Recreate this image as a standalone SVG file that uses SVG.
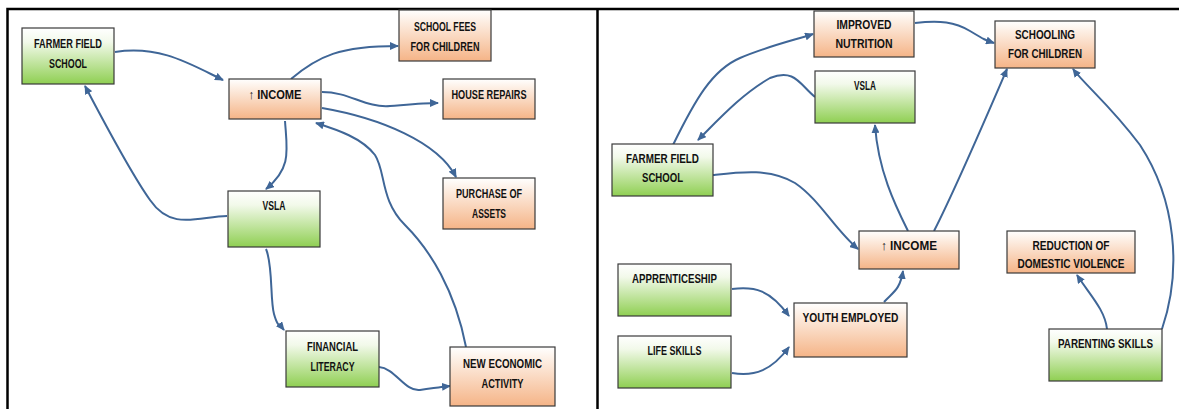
<svg xmlns="http://www.w3.org/2000/svg" width="1179" height="409" viewBox="0 0 1179 409">
<defs>
<linearGradient id="gGreen" x1="0" y1="0" x2="0" y2="1">
<stop offset="0" stop-color="#ffffff"/><stop offset="0.25" stop-color="#f2f9ea"/><stop offset="1" stop-color="#8fcf52"/>
</linearGradient>
<linearGradient id="gOrange" x1="0" y1="0" x2="0" y2="1">
<stop offset="0" stop-color="#ffffff"/><stop offset="0.2" stop-color="#fdf0e6"/><stop offset="1" stop-color="#f5b487"/>
</linearGradient>
<marker id="arr" markerUnits="userSpaceOnUse" markerWidth="9" markerHeight="8" refX="8" refY="4" orient="auto">
<path d="M0,0 L9,4 L0,8 z" fill="#3f6697"/>
</marker>
<style>
.g{fill:url(#gGreen);stroke:#3a3a3a;stroke-width:1.2}
.o{fill:url(#gOrange);stroke:#3a3a3a;stroke-width:1.2}
text{font-family:"Liberation Sans",Arial,sans-serif;font-weight:bold;font-size:12.5px;fill:#111111;text-anchor:middle}
.c path{fill:none;stroke:#3f6697;stroke-width:2;marker-end:url(#arr)}
.frame{stroke:#000;stroke-width:2.5;fill:none}
</style>
</defs>
<rect width="1179" height="409" fill="#ffffff"/>
<g id="frame">
<path class="frame" d="M7.5,409 V9 H1179 M597.5,9 V409"/>
</g>

<g class="c" id="connectors">
<path d="M115,52 C160,45 190,64 223,80"/>
<path d="M291,79 C318,56 340,46 398,46"/>
<path d="M322,92 C350,92 365,108 390,106 S425,103 438,103"/>
<path d="M322,108 C380,118 438,142 456,177"/>
<path d="M285,121 C287,150 292,168 266,189"/>
<path d="M227,216 C200,216 172,232 150,200 C130,172 104,122 85,86"/>
<path d="M466,347 C455,290 430,250 405,225 C380,200 386,172 375,155 C362,138 338,130 316,123"/>
<path d="M266,249 C273,265 270,300 274,314 S280,325 284,330"/>
<path d="M379,367 C395,368 405,392 420,390 S440,387 450,386"/>

<path d="M673,145 C695,100 712,70 740,58 C768,46 795,40 813,34"/>
<path d="M815,97 C800,85 795,68 770,78 C742,94 720,118 698,140"/>
<path d="M915,23 C940,20 955,22 970,31 S985,40 994,43"/>
<path d="M713,175 C740,172 770,168 795,183 C820,200 835,230 858,249"/>
<path d="M908,231 C895,205 878,170 875,125"/>
<path d="M934,231 C955,190 985,120 1007,69"/>
<path d="M1162,329 C1182,270 1176,200 1140,145 C1110,105 1085,85 1073,69"/>
<path d="M1107,329 C1105,310 1090,295 1077,275"/>
<path d="M732,289 C755,286 770,290 789,316"/>
<path d="M732,373 C755,377 772,370 789,347"/>
<path d="M884,302 C893,292 900,290 903,271"/>
</g>

<g id="l-ffs"><rect class="g" x="22" y="28" width="92" height="56"/>
<text x="68" y="47.5" textLength="68" lengthAdjust="spacingAndGlyphs">FARMER FIELD</text>
<text x="68" y="67.5" textLength="38" lengthAdjust="spacingAndGlyphs">SCHOOL</text></g>
<g id="l-income"><rect class="o" x="229" y="79" width="92" height="40"/>
<text x="275" y="99" textLength="53" lengthAdjust="spacingAndGlyphs">↑ INCOME</text></g>
<g id="l-fees"><rect class="o" x="399" y="10" width="92" height="51"/>
<text x="445" y="31" textLength="62" lengthAdjust="spacingAndGlyphs">SCHOOL FEES</text>
<text x="445" y="51" textLength="69" lengthAdjust="spacingAndGlyphs">FOR CHILDREN</text></g>
<g id="l-house"><rect class="o" x="443" y="79" width="92" height="40"/>
<text x="489" y="99" textLength="75" lengthAdjust="spacingAndGlyphs">HOUSE REPAIRS</text></g>
<g id="l-assets"><rect class="o" x="443" y="178" width="92" height="51"/>
<text x="489" y="197.5" textLength="66" lengthAdjust="spacingAndGlyphs">PURCHASE OF</text>
<text x="489" y="217.5" textLength="34" lengthAdjust="spacingAndGlyphs">ASSETS</text></g>
<g id="l-vsla"><rect class="g" x="228" y="191" width="92" height="56"/>
<text x="274" y="210" textLength="23" lengthAdjust="spacingAndGlyphs">VSLA</text></g>
<g id="l-fin"><rect class="g" x="286" y="331" width="93" height="56"/>
<text x="332.5" y="351" textLength="51" lengthAdjust="spacingAndGlyphs">FINANCIAL</text>
<text x="332.5" y="371" textLength="44" lengthAdjust="spacingAndGlyphs">LITERACY</text></g>
<g id="l-nea"><rect class="o" x="450" y="347" width="105" height="59"/>
<text x="502.5" y="367.5" textLength="79" lengthAdjust="spacingAndGlyphs">NEW ECONOMIC</text>
<text x="502.5" y="387.5" textLength="42" lengthAdjust="spacingAndGlyphs">ACTIVITY</text></g>

<g id="r-nutr"><rect class="o" x="814" y="11" width="100" height="46"/>
<text x="864" y="29" textLength="55" lengthAdjust="spacingAndGlyphs">IMPROVED</text>
<text x="864" y="47.5" textLength="57" lengthAdjust="spacingAndGlyphs">NUTRITION</text></g>
<g id="r-school"><rect class="o" x="995" y="21" width="100" height="47"/>
<text x="1045" y="39" textLength="60" lengthAdjust="spacingAndGlyphs">SCHOOLING</text>
<text x="1045" y="57.5" textLength="74" lengthAdjust="spacingAndGlyphs">FOR CHILDREN</text></g>
<g id="r-vsla"><rect class="g" x="815" y="71" width="100" height="52"/>
<text x="865" y="90" textLength="22" lengthAdjust="spacingAndGlyphs">VSLA</text></g>
<g id="r-ffs"><rect class="g" x="612" y="144" width="101" height="52"/>
<text x="662.5" y="163" textLength="73" lengthAdjust="spacingAndGlyphs">FARMER FIELD</text>
<text x="662.5" y="182" textLength="41" lengthAdjust="spacingAndGlyphs">SCHOOL</text></g>
<g id="r-income"><rect class="o" x="859" y="231" width="100" height="38"/>
<text x="909" y="250" textLength="56" lengthAdjust="spacingAndGlyphs">↑ INCOME</text></g>
<g id="r-reduction"><rect class="o" x="1007" y="231" width="128" height="42"/>
<text x="1071" y="250" textLength="77" lengthAdjust="spacingAndGlyphs">REDUCTION OF</text>
<text x="1071" y="268" textLength="107" lengthAdjust="spacingAndGlyphs">DOMESTIC VIOLENCE</text></g>
<g id="r-appr"><rect class="g" x="618" y="264" width="113" height="52"/>
<text x="674.5" y="283" textLength="85" lengthAdjust="spacingAndGlyphs">APPRENTICESHIP</text></g>
<g id="r-life"><rect class="g" x="618" y="336" width="113" height="52"/>
<text x="674.5" y="355" textLength="54" lengthAdjust="spacingAndGlyphs">LIFE SKILLS</text></g>
<g id="r-youth"><rect class="o" x="794" y="303" width="113" height="54"/>
<text x="850.5" y="322" textLength="96" lengthAdjust="spacingAndGlyphs">YOUTH EMPLOYED</text></g>
<g id="r-parent"><rect class="g" x="1049" y="329" width="113" height="52"/>
<text x="1105.5" y="348" textLength="95" lengthAdjust="spacingAndGlyphs">PARENTING SKILLS</text></g>
</svg>
